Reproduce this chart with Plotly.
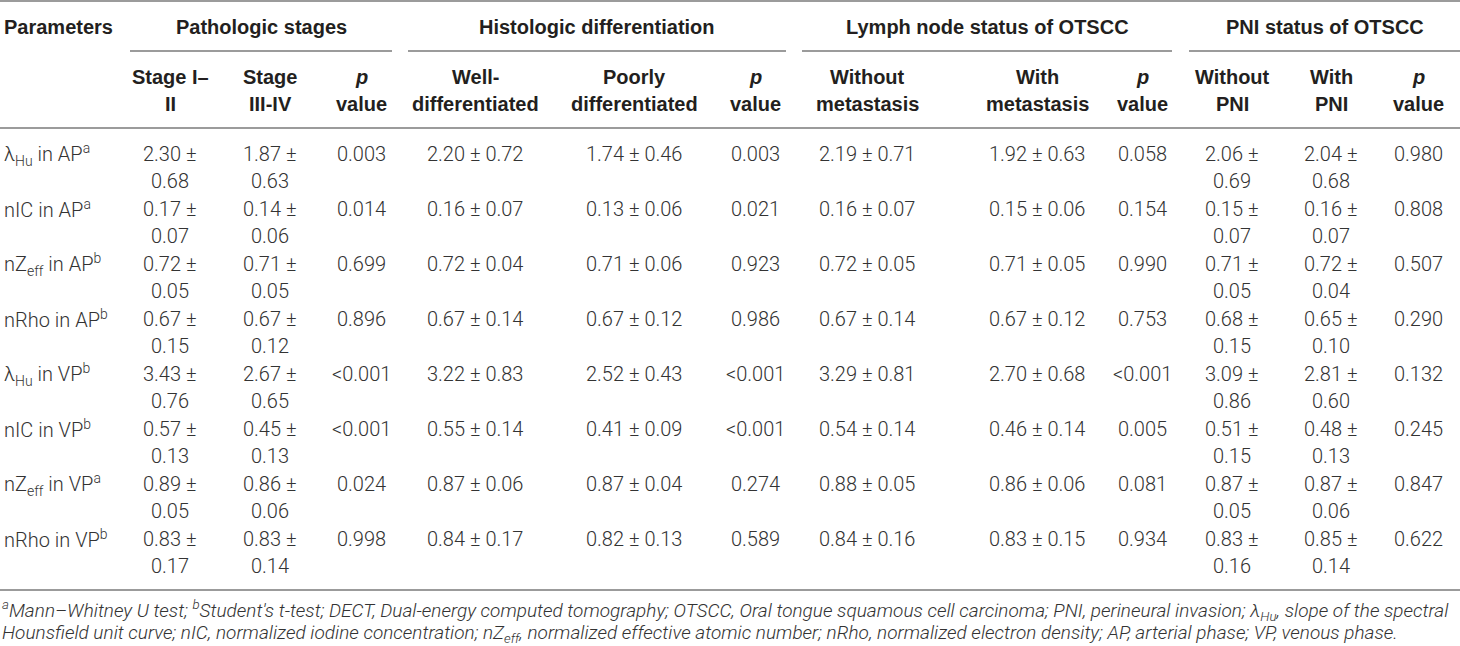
import plotly.graph_objects as go

# ---- table content ----
parameters = [
    "λ<sub>Hu</sub> in AP<sup>a</sup>",
    "nIC in AP<sup>a</sup>",
    "nZ<sub>eff</sub> in AP<sup>b</sup>",
    "nRho in AP<sup>b</sup>",
    "λ<sub>Hu</sub> in VP<sup>b</sup>",
    "nIC in VP<sup>b</sup>",
    "nZ<sub>eff</sub> in VP<sup>a</sup>",
    "nRho in VP<sup>b</sup>",
]

stage_1_2 = ["2.30 ± 0.68", "0.17 ± 0.07", "0.72 ± 0.05", "0.67 ± 0.15",
             "3.43 ± 0.76", "0.57 ± 0.13", "0.89 ± 0.05", "0.83 ± 0.17"]
stage_3_4 = ["1.87 ± 0.63", "0.14 ± 0.06", "0.71 ± 0.05", "0.67 ± 0.12",
             "2.67 ± 0.65", "0.45 ± 0.13", "0.86 ± 0.06", "0.83 ± 0.14"]
p_stage = ["0.003", "0.014", "0.699", "0.896", "<0.001", "<0.001", "0.024", "0.998"]

well_diff = ["2.20 ± 0.72", "0.16 ± 0.07", "0.72 ± 0.04", "0.67 ± 0.14",
             "3.22 ± 0.83", "0.55 ± 0.14", "0.87 ± 0.06", "0.84 ± 0.17"]
poorly_diff = ["1.74 ± 0.46", "0.13 ± 0.06", "0.71 ± 0.06", "0.67 ± 0.12",
               "2.52 ± 0.43", "0.41 ± 0.09", "0.87 ± 0.04", "0.82 ± 0.13"]
p_diff = ["0.003", "0.021", "0.923", "0.986", "<0.001", "<0.001", "0.274", "0.589"]

without_meta = ["2.19 ± 0.71", "0.16 ± 0.07", "0.72 ± 0.05", "0.67 ± 0.14",
                "3.29 ± 0.81", "0.54 ± 0.14", "0.88 ± 0.05", "0.84 ± 0.16"]
with_meta = ["1.92 ± 0.63", "0.15 ± 0.06", "0.71 ± 0.05", "0.67 ± 0.12",
             "2.70 ± 0.68", "0.46 ± 0.14", "0.86 ± 0.06", "0.83 ± 0.15"]
p_meta = ["0.058", "0.154", "0.990", "0.753", "<0.001", "0.005", "0.081", "0.934"]

without_pni = ["2.06 ± 0.69", "0.15 ± 0.07", "0.71 ± 0.05", "0.68 ± 0.15",
               "3.09 ± 0.86", "0.51 ± 0.15", "0.87 ± 0.05", "0.83 ± 0.16"]
with_pni = ["2.04 ± 0.68", "0.16 ± 0.07", "0.72 ± 0.04", "0.65 ± 0.10",
            "2.81 ± 0.60", "0.48 ± 0.13", "0.87 ± 0.06", "0.85 ± 0.14"]
p_pni = ["0.980", "0.808", "0.507", "0.290", "0.132", "0.245", "0.847", "0.622"]

group_titles = ["Pathologic stages", "Histologic differentiation",
                "Lymph node status of OTSCC", "PNI status of OTSCC"]
sub_headers = ["Stage I–<br>II", "Stage<br>III-IV", "<i>p</i><br>value",
               "Well-<br>differentiated", "Poorly<br>differentiated", "<i>p</i><br>value",
               "Without<br>metastasis", "With<br>metastasis", "<i>p</i><br>value",
               "Without<br>PNI", "With<br>PNI", "<i>p</i><br>value"]

footnote = [
    "<sup>a</sup>Mann–Whitney U test; <sup>b</sup>Student's t-test; DECT, Dual-energy computed tomography; "
    "OTSCC, Oral tongue squamous cell carcinoma; PNI, perineural invasion; λ<sub>Hu</sub>, slope of the spectral",
    "Hounsfield unit curve; nIC, normalized iodine concentration; nZ<sub>eff</sub>, normalized effective atomic "
    "number; nRho, normalized electron density; AP, arterial phase; VP, venous phase.",
]

columns = [stage_1_2, stage_3_4, p_stage, well_diff, poorly_diff, p_diff,
           without_meta, with_meta, p_meta, without_pni, with_pni, p_pni]
wrapped = [True, True, False, False, False, False, False, False, False, True, True, False]

# ---- layout (pixels) ----
W, H = 1460, 646
col_x = [170, 270, 361, 475, 634, 755, 867, 1037, 1142, 1232, 1331, 1418]
group_spans = [(130, 392), (408, 786), (802, 1172), (1189, 1460)]
ROW0, ROW_H, LINE_GAP = 154, 55, 27
LINE_C = "#9b9b9b"
TXT = "#231f20"
HEAD_FONT = dict(family="Liberation Sans, Arial", size=20, color=TXT, weight="bold")
BODY_FONT = dict(family="Roboto Light, Roboto, Liberation Sans", size=20, color="#333333", weight=300)

fig = go.Figure()
fig.add_trace(go.Scatter(x=[0, W], y=[0, H], mode="markers",
                         marker=dict(opacity=0), hoverinfo="skip", showlegend=False))


def rule(x0, x1, y):
    fig.add_shape(type="line", x0=x0, x1=x1, y0=y, y1=y, xref="x", yref="y",
                  line=dict(color=LINE_C, width=2))


def cell(x, y, text, font, anchor="center"):
    # one annotation per text line so the line gap matches the table
    for k, part in enumerate(text.split("<br>")):
        fig.add_annotation(x=x, y=y + k * LINE_GAP, text=part, xanchor=anchor,
                           yanchor="middle", showarrow=False, font=font)


rule(0, W, 1)
for x0, x1 in group_spans:
    rule(x0, x1, 51)
rule(0, W, 128)
rule(0, W, 590)

# header
cell(2, 27, "Parameters", HEAD_FONT, "left")
for (x0, x1), t in zip(group_spans, group_titles):
    cell((x0 + x1) / 2, 27, t, HEAD_FONT)
for x, t in zip(col_x, sub_headers):
    cell(x, 77, t, HEAD_FONT)

# body
for i, p in enumerate(parameters):
    y = ROW0 + i * ROW_H
    cell(2, y, p, BODY_FONT, "left")
    for x, col, wrap in zip(col_x, columns, wrapped):
        txt = col[i].replace(" ± ", " ±<br>") if wrap else col[i]
        cell(x, y, txt, BODY_FONT)

# footnote
foot_font = dict(family="Roboto Light, Roboto, Liberation Sans", size=19, color="#333333", weight=300)
for k, line in enumerate(footnote):
    fig.add_annotation(x=0, y=610 + k * 23, text="<i>" + line + "</i>", xanchor="left",
                       yanchor="middle", showarrow=False, font=foot_font)

fig.update_layout(
    width=W, height=H,
    margin=dict(l=0, r=0, t=0, b=0),
    paper_bgcolor="white", plot_bgcolor="white",
    xaxis=dict(range=[0, W], visible=False, fixedrange=True),
    yaxis=dict(range=[H, 0], visible=False, fixedrange=True),
    showlegend=False,
)

fig.write_html("out.html", config={"displayModeBar": False},
               post_script="document.body.style.margin='0';")
